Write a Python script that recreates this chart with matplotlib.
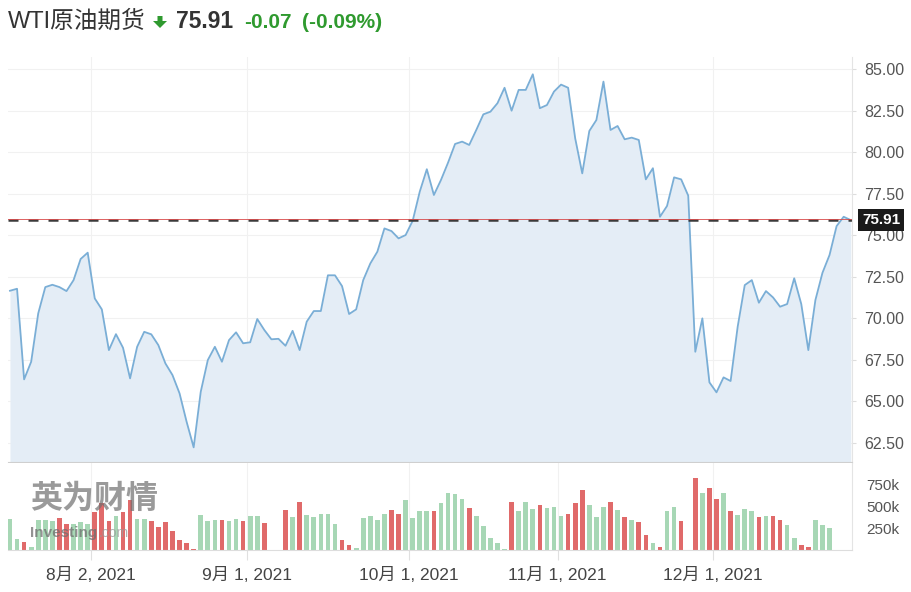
import numpy as np
import matplotlib
matplotlib.use("Agg")
import matplotlib.pyplot as plt
from matplotlib.patches import Polygon
from matplotlib.transforms import blended_transform_factory

plt.rcParams['font.family'] = ['Liberation Sans', 'Noto Sans CJK SC', 'DejaVu Sans']

# daily close, WTI crude futures (one value per trading session)
prices = [
    71.66, 71.78, 66.33, 67.39, 70.30, 71.88, 72.02, 71.88, 71.64, 72.30,
    73.57, 73.95, 71.20, 70.54, 68.09, 69.05, 68.23, 66.39, 68.29, 69.19,
    69.04, 68.39, 67.29, 66.59, 65.49, 63.78, 62.24, 65.58, 67.49, 68.29,
    67.39, 68.69, 69.16, 68.50, 68.56, 69.96, 69.30, 68.74, 68.77, 68.35,
    69.25, 68.09, 69.80, 70.44, 70.44, 72.59, 72.59, 71.94, 70.26, 70.54,
    72.30, 73.30, 74.01, 75.41, 75.25, 74.81, 75.01, 75.87, 77.62, 78.97,
    77.42, 78.32, 79.36, 80.49, 80.63, 80.43, 81.33, 82.27, 82.43, 82.94,
    83.87, 82.49, 83.74, 83.74, 84.68, 82.64, 82.83, 83.64, 84.06, 83.87,
    80.83, 78.72, 81.27, 81.93, 84.24, 81.33, 81.57, 80.77, 80.87, 80.73,
    78.36, 79.03, 76.11, 76.76, 78.48, 78.36, 77.38, 67.99, 70.00, 66.15,
    65.55, 66.45, 66.23, 69.50, 72.00, 72.30, 70.94, 71.64, 71.26, 70.70,
    70.86, 72.41, 70.86, 68.09, 71.10, 72.74, 73.81, 75.55, 76.11, 75.91,
]

# volume in thousands (last sessions have no volume yet)
volume_k = [
    360, 130, 87, 29, 341, 341, 330, 370, 300, 300,
    320, 300, 440, 540, 330, 390, 440, 580, 360, 360,
    330, 260, 320, 220, 120, 85, 10, 400, 330, 345,
    345, 330, 360, 330, 395, 395, 310, 0, 0, 465,
    380, 554, 400, 380, 419, 419, 295, 120, 62, 23,
    372, 395, 341, 411, 465, 419, 574, 372, 450, 450,
    450, 535, 659, 643, 585, 484, 395, 271, 136, 85,
    12, 554, 450, 550, 469, 519, 481, 500, 395, 415,
    535, 690, 519, 376, 500, 554, 465, 380, 341, 326,
    171, 81, 31, 450, 500, 329, 0, 833, 651, 709,
    585, 655, 446, 399, 477, 446, 380, 395, 395, 341,
    291, 136, 62, 31, 341, 291, 256,
]

last_price = 75.91
tick_pos = [11.5, 33.5, 56.5, 77.5, 99.5]
tick_labels = ['8月 2, 2021', '9月 1, 2021', '10月 1, 2021', '11月 1, 2021', '12月 1, 2021']
price_ticks = np.arange(62.5, 85.01, 2.5)
vol_ticks = [250, 500, 750]

LINE = '#7aaed6'
FILL = '#e4edf6'
GREEN = '#a7d7b5'
RED = '#e06a6a'
TXT = '#555555'

idx = np.arange(len(prices))
vidx = np.arange(len(volume_k))
ups = [True] + [prices[i] >= prices[i - 1] for i in range(1, len(volume_k))]
vcolors = [GREEN if u else RED for u in ups]

W, H = 911, 592
fig = plt.figure(figsize=(W / 100, H / 100), dpi=100)
ax = fig.add_axes([8 / W, 1 - 462 / H, 844 / W, 405 / H])
axv = fig.add_axes([8 / W, 1 - 550 / H, 844 / W, 87 / H], sharex=ax)

# price panel
ylo, yhi = 61.36, 85.72
ax.fill_between(idx, prices, ylo, color=FILL, lw=0)
ax.plot(idx, prices, color=LINE, lw=1.3)
ax.axhline(last_price, color='#3a3a3a', lw=1.8, dashes=(4, 4))
ax.axhline(last_price + 0.05, color='#d84848', lw=0.6)
ax.set_ylim(ylo, yhi)
ax.set_xlim(-0.28, 119.18)
ax.yaxis.tick_right()
ax.set_yticks(price_ticks)
ax.set_yticklabels([f'{v:.2f}' for v in price_ticks])
ax.set_xticks(tick_pos)
ax.tick_params(axis='x', length=0, labelbottom=False)
ax.tick_params(axis='y', length=3, color='#dddddd', labelsize=11.5, labelcolor=TXT, pad=6)
ax.grid(color='#f1f1f1', lw=0.8)
ax.set_axisbelow(True)
for s in ['top', 'left']:
    ax.spines[s].set_visible(False)
ax.spines['right'].set_color('#e4e4e4')
ax.spines['bottom'].set_color('#cfcfcf')

tr = blended_transform_factory(ax.transAxes, ax.transData)
ax.text(1.012, last_price, f'{last_price:.2f}', transform=tr, color='white',
        fontsize=11, fontweight='bold', va='center', ha='left',
        bbox=dict(boxstyle='square,pad=0.25', fc='#1a1a1a', ec='none'))

# volume panel
axv.bar(vidx, [v * 1000 for v in volume_k], width=0.66, color=vcolors, lw=0)
axv.set_ylim(0, 1000000)
axv.yaxis.tick_right()
axv.set_yticks([v * 1000 for v in vol_ticks])
axv.set_yticklabels([f'{v}k' for v in vol_ticks])
axv.set_xticks(tick_pos)
axv.set_xticklabels(tick_labels)
axv.tick_params(axis='x', length=7, color='#e0e0e0', labelsize=12.5, labelcolor='#444444', pad=5)
axv.tick_params(axis='y', length=0, labelsize=11, labelcolor=TXT, pad=10)
axv.grid(axis='x', color='#f1f1f1', lw=0.8)
axv.set_axisbelow(True)
for s in ['top', 'left']:
    axv.spines[s].set_visible(False)
axv.spines['right'].set_color('#e4e4e4')
axv.spines['bottom'].set_color('#dddddd')

# watermark
axv.text(0.026, 0.58, '英为财情', transform=axv.transAxes, fontsize=23, fontweight='bold',
         color='#6f6f6f', alpha=0.7, va='center', ha='left')
axv.text(0.026, 0.19, 'Investing', transform=axv.transAxes, fontsize=11, fontweight='bold',
         color='#6f6f6f', alpha=0.75, va='center', ha='left')
axv.text(0.107, 0.19, '.com', transform=axv.transAxes, fontsize=10,
         color='#9a9a9a', alpha=0.75, va='center', ha='left')

# header
fig.text(8 / W, 1 - 22 / H, 'WTI原油期货', fontsize=17, color='#333333', va='center', ha='left')
arrow = [(157.5, 16), (162.5, 16), (162.5, 21), (167, 21), (160, 28), (153, 21), (157.5, 21)]
fig.patches.append(Polygon([(x / 100, (H - y) / 100) for x, y in arrow], closed=True,
                           transform=fig.dpi_scale_trans, fc='#2f9a2f', ec='none'))
fig.text(176 / W, 1 - 22 / H, '75.91', fontsize=16.5, fontweight='bold', color='#333333',
         va='center', ha='left')
fig.text(244 / W, 1 - 22 / H, '-0.07', fontsize=15, fontweight='bold', color='#2f9a2f',
         va='center', ha='left')
fig.text(302 / W, 1 - 22 / H, '(-0.09%)', fontsize=15, fontweight='bold', color='#2f9a2f',
         va='center', ha='left')

fig.savefig('out.png', dpi=100)
